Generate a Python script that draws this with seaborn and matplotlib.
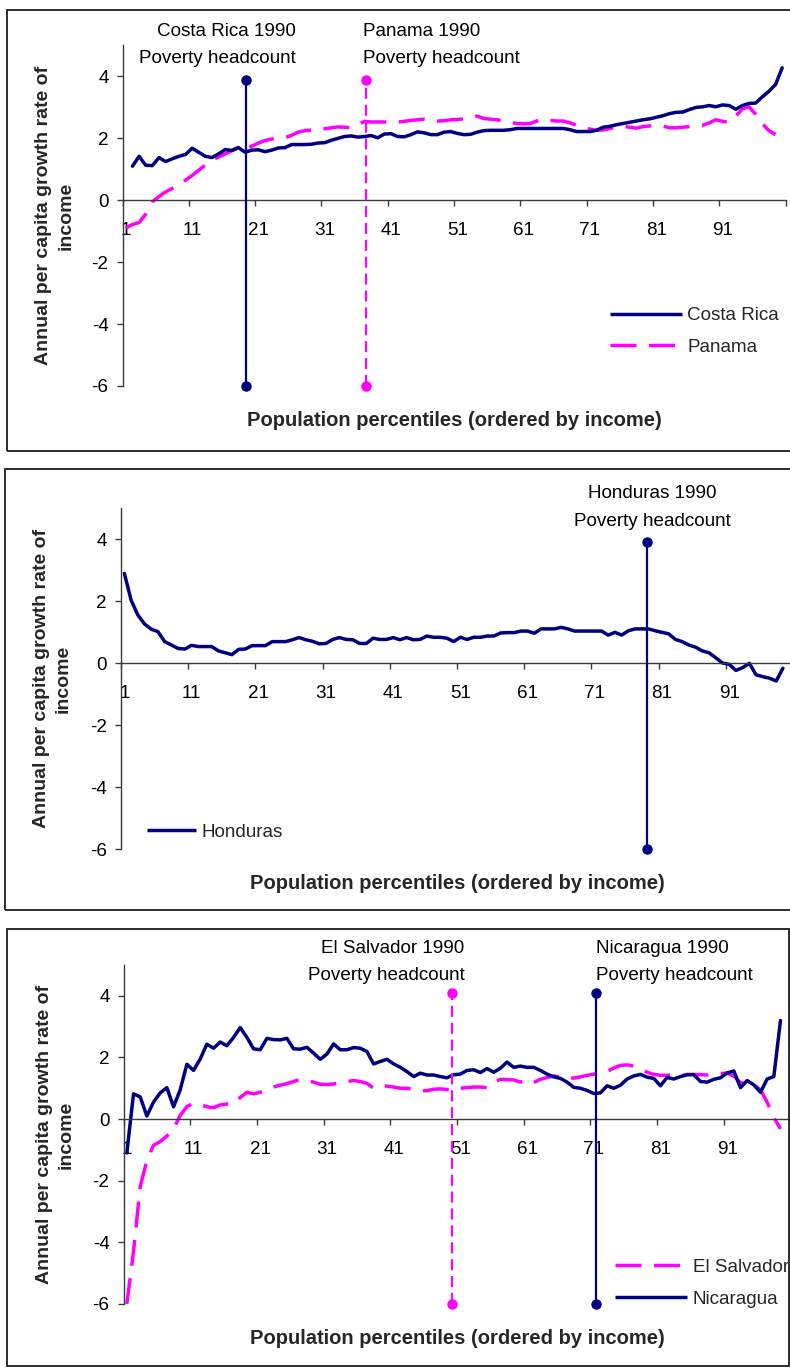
import numpy as np
import matplotlib
matplotlib.use("Agg")
import matplotlib.pyplot as plt
import seaborn as sns
from matplotlib.patches import Rectangle
from matplotlib.lines import Line2D
from matplotlib.transforms import blended_transform_factory

sns.set_theme(style="white")
plt.rcParams["font.family"] = ["Liberation Sans", "DejaVu Sans"]

NAVY = "#000080"
MAGENTA = "#FF00FF"
AXIS_GREY = "#3a3a3a"

# ---------------------------------------------------------------- data
# Annual per capita growth rate of income by population percentile
cr_pct = list(range(2, 101))
costa_rica = [
    1.10, 1.42, 1.13, 1.12, 1.38, 1.25, 1.34, 1.42, 1.48, 1.68,
    1.55, 1.42, 1.38, 1.50, 1.64, 1.61, 1.70, 1.55, 1.62, 1.63,
    1.57, 1.62, 1.69, 1.70, 1.80, 1.80, 1.80, 1.81, 1.85, 1.86,
    1.94, 2.00, 2.06, 2.08, 2.04, 2.06, 2.09, 2.02, 2.14, 2.15,
    2.06, 2.05, 2.12, 2.21, 2.18, 2.12, 2.12, 2.20, 2.22, 2.16,
    2.12, 2.13, 2.20, 2.25, 2.26, 2.26, 2.26, 2.28, 2.32, 2.32,
    2.32, 2.32, 2.32, 2.32, 2.32, 2.32, 2.28, 2.22, 2.22, 2.22,
    2.26, 2.36, 2.39, 2.44, 2.48, 2.52, 2.56, 2.60, 2.63, 2.68,
    2.73, 2.80, 2.84, 2.85, 2.93, 3.00, 3.02, 3.06, 3.02, 3.08,
    3.06, 2.94, 3.06, 3.13, 3.14, 3.34, 3.52, 3.74, 4.28,
]

pa_pct = list(range(1, 100))
panama = [
    -0.90, -0.78, -0.72, -0.45, -0.05, 0.12, 0.27, 0.38, 0.50, 0.65,
    0.80, 0.97, 1.14, 1.30, 1.40, 1.50, 1.60, 1.72, 1.62, 1.75,
    1.85, 1.93, 1.98, 2.00, 2.02, 2.10, 2.20, 2.25, 2.27, 2.28,
    2.31, 2.34, 2.37, 2.36, 2.34, 2.44, 2.55, 2.53, 2.53, 2.53,
    2.53, 2.53, 2.55, 2.58, 2.60, 2.62, 2.60, 2.56, 2.57, 2.60,
    2.61, 2.63, 2.66, 2.72, 2.64, 2.62, 2.60, 2.56, 2.52, 2.48,
    2.47, 2.48, 2.56, 2.63, 2.58, 2.56, 2.56, 2.50, 2.42, 2.34,
    2.30, 2.26, 2.27, 2.32, 2.37, 2.39, 2.36, 2.33, 2.38, 2.40,
    2.42, 2.40, 2.34, 2.34, 2.36, 2.38, 2.40, 2.42, 2.50, 2.60,
    2.55, 2.52, 2.72, 2.95, 3.02, 2.78, 2.48, 2.25, 2.12,
]

ho_pct = list(range(1, 100))
honduras = [
    2.89, 2.03, 1.55, 1.26, 1.09, 1.01, 0.69, 0.58, 0.47, 0.45,
    0.57, 0.53, 0.53, 0.53, 0.39, 0.33, 0.27, 0.44, 0.45, 0.56,
    0.56, 0.56, 0.69, 0.69, 0.69, 0.75, 0.82, 0.75, 0.70, 0.62,
    0.63, 0.76, 0.82, 0.76, 0.75, 0.63, 0.63, 0.80, 0.76, 0.76,
    0.82, 0.75, 0.82, 0.75, 0.76, 0.87, 0.83, 0.83, 0.80, 0.69,
    0.83, 0.76, 0.83, 0.83, 0.87, 0.87, 0.97, 0.98, 0.98, 1.03,
    1.03, 0.96, 1.10, 1.10, 1.10, 1.15, 1.10, 1.03, 1.03, 1.03,
    1.03, 1.03, 0.90, 0.99, 0.90, 1.04, 1.10, 1.10, 1.10, 1.04,
    0.99, 0.94, 0.76, 0.69, 0.58, 0.51, 0.39, 0.33, 0.17, 0.00,
    -0.04, -0.24, -0.15, -0.01, -0.38, -0.44, -0.49, -0.58, -0.17,
]

es_pct = list(range(1, 100))
el_salvador = [
    -6.00, -4.30, -2.20, -1.35, -0.85, -0.73, -0.55, -0.32, 0.12, 0.40,
    0.52, 0.47, 0.40, 0.37, 0.46, 0.49, 0.49, 0.70, 0.87, 0.82,
    0.87, 0.95, 1.04, 1.10, 1.15, 1.22, 1.29, 1.25, 1.20, 1.13,
    1.12, 1.14, 1.19, 1.22, 1.25, 1.22, 1.16, 1.00, 1.07, 1.07,
    1.04, 1.00, 1.00, 0.96, 0.92, 0.92, 0.97, 0.98, 0.96, 0.92,
    1.00, 1.02, 1.04, 1.04, 1.02, 1.19, 1.29, 1.28, 1.27, 1.20,
    1.28, 1.19, 1.29, 1.35, 1.40, 1.37, 1.34, 1.33, 1.37, 1.42,
    1.46, 1.46, 1.54, 1.66, 1.74, 1.76, 1.72, 1.64, 1.52, 1.45,
    1.42, 1.42, 1.43, 1.40, 1.45, 1.45, 1.44, 1.43, 1.45, 1.48,
    1.49, 1.40, 1.18, 1.16, 1.12, 0.95, 0.55, 0.05, -0.32,
]

ni_pct = list(range(1, 100))
nicaragua = [
    -1.10, 0.82, 0.72, 0.10, 0.55, 0.85, 1.02, 0.40, 0.95, 1.78,
    1.58, 1.95, 2.43, 2.30, 2.50, 2.38, 2.65, 2.97, 2.65, 2.28,
    2.25, 2.62, 2.58, 2.57, 2.62, 2.28, 2.27, 2.33, 2.14, 1.94,
    2.11, 2.44, 2.25, 2.25, 2.32, 2.30, 2.19, 1.79, 1.87, 1.94,
    1.79, 1.68, 1.54, 1.38, 1.49, 1.43, 1.43, 1.38, 1.34, 1.44,
    1.46, 1.58, 1.60, 1.51, 1.64, 1.52, 1.65, 1.85, 1.68, 1.72,
    1.68, 1.68, 1.58, 1.46, 1.37, 1.32, 1.20, 1.03, 1.00, 0.93,
    0.83, 0.85, 1.08, 1.00, 1.10, 1.30, 1.40, 1.45, 1.36, 1.32,
    1.08, 1.35, 1.30, 1.38, 1.44, 1.44, 1.22, 1.20, 1.29, 1.34,
    1.50, 1.56, 1.02, 1.25, 1.11, 0.87, 1.30, 1.38, 3.20,
]

# 1990 poverty headcount (percentile) and the span of its marker line
headcount_cr, headcount_pa = 19.1, 37.3
headcount_ho = 78.8
headcount_es, headcount_ni = 49.7, 71.4
marker_span_top = [3.9, 3.9, 4.1]
marker_span_bottom = -6.0

y_ticks = [-6, -4, -2, 0, 2, 4]
x_tick_labels = [1, 11, 21, 31, 41, 51, 61, 71, 81, 91]

ylabel_text = "Annual per capita growth rate of\nincome"
xlabel_text = "Population percentiles (ordered by income)"

# ---------------------------------------------------------------- layout
W, H = 790, 1368
fig = plt.figure(figsize=(W / 100, H / 100), dpi=100)
fig.patch.set_facecolor("white")


def px_axes(left, right, top, bottom):
    return fig.add_axes([left / W, 1 - bottom / H, (right - left) / W, (bottom - top) / H])


ax1 = px_axes(122.5, 785.5, 45.5, 386)
ax2 = px_axes(121, 793, 508, 849)
ax3 = px_axes(123.5, 790.5, 965, 1304)

# outer frames around each chart
for (x0, x1, y0, y1) in [(6.5, 800, 10, 451), (4.7, 800, 469, 910), (7.3, 788.5, 929, 1366)]:
    fig.add_artist(Rectangle((x0 / W, 1 - y1 / H), (x1 - x0) / W, (y1 - y0) / H,
                             transform=fig.transFigure, fill=False,
                             edgecolor="#1c1c1c", linewidth=1.3))

FS = 13.6
SERIES_LW = 2.5
DASH = (0, (7.5, 3.6))


def style_axes(ax):
    ax.set_xlim(0.5, 100.5)
    ax.set_ylim(-6, 5)
    ax.set_facecolor("white")
    for side in ("top", "right"):
        ax.spines[side].set_visible(False)
    ax.spines["bottom"].set_position(("data", 0))
    for side in ("left", "bottom"):
        ax.spines[side].set_color(AXIS_GREY)
        ax.spines[side].set_linewidth(1.0)
    ax.set_yticks(y_ticks)
    ax.set_yticklabels([str(v) for v in y_ticks])
    ax.set_xticks(np.arange(0.5, 101, 10))
    ax.set_xticklabels([])
    ax.set_xticks(x_tick_labels, minor=True)
    ax.set_xticklabels([str(v) for v in x_tick_labels], minor=True)
    ax.tick_params(axis="x", which="major", bottom=True, direction="out",
                   length=4, width=1.0, color=AXIS_GREY, labelbottom=False)
    ax.tick_params(axis="x", which="minor", bottom=True, length=0, pad=16,
                   labelsize=FS, labelcolor="black")
    ax.tick_params(axis="y", which="major", left=True, direction="out",
                   length=4, width=1.0, color=AXIS_GREY, pad=6,
                   labelsize=FS, labelcolor="black")
    ax.grid(False)
    ax.set_ylabel(ylabel_text, fontsize=14, fontweight="bold", va="center",
                  linespacing=1.4)
    ax.yaxis.set_label_coords(-0.102, 0.5)
    ax.set_xlabel(xlabel_text, fontsize=14.5, fontweight="bold", va="center")
    ax.xaxis.set_label_coords(0.5, -0.102)


def draw_series(ax, x, y, color, dashed=False):
    kw = dict(color=color, linewidth=SERIES_LW, solid_capstyle="round",
              solid_joinstyle="round", dash_capstyle="butt")
    if dashed:
        kw["linestyle"] = DASH
    sns.lineplot(x=x, y=y, ax=ax, legend=False, **kw)


def draw_headcount(ax, x, top, color, dashed=False):
    ls = (0, (5, 2.6)) if dashed else "-"
    ax.plot([x, x], [marker_span_bottom, top], color=color, linewidth=1.6,
            linestyle=ls, marker="o", markersize=6.5, markerfacecolor=color,
            markeredgecolor=color, zorder=4, clip_on=False)


def label_pair(ax, x, lines, ha, baselines):
    tr = blended_transform_factory(ax.transData, fig.transFigure)
    for txt, yb in zip(lines, baselines):
        ax.text(x, 1 - yb / H, txt, transform=tr, ha=ha, va="baseline",
                fontsize=FS, color="black", clip_on=False)


def legend(ax, entries, anchor, handlelength):
    handles = []
    for name, color, dashed in entries:
        handles.append(Line2D([], [], color=color, linewidth=SERIES_LW,
                              linestyle=DASH if dashed else "-",
                              dash_capstyle="butt", solid_capstyle="butt"))
    ax.legend(handles, [e[0] for e in entries], loc="center left",
              bbox_to_anchor=anchor, frameon=False, fontsize=FS,
              handlelength=handlelength, handletextpad=0.3, borderpad=0,
              borderaxespad=0, labelspacing=0.78)


# ---------------------------------------------------------------- panel 1
style_axes(ax1)
draw_series(ax1, pa_pct, panama, MAGENTA, dashed=True)
draw_series(ax1, cr_pct, costa_rica, NAVY)
draw_headcount(ax1, headcount_cr, marker_span_top[0], NAVY)
draw_headcount(ax1, headcount_pa, marker_span_top[0], MAGENTA, dashed=True)
label_pair(ax1, headcount_cr + 7.6, ["Costa Rica 1990", "Poverty headcount"], "right", [36, 63])
label_pair(ax1, headcount_pa - 0.5, ["Panama 1990", "Poverty headcount"], "left", [36, 63])
legend(ax1, [("Costa Rica", NAVY, False), ("Panama", MAGENTA, True)], (0.735, 0.16), 3.8)

# ---------------------------------------------------------------- panel 2
style_axes(ax2)
draw_series(ax2, ho_pct, honduras, NAVY)
draw_headcount(ax2, headcount_ho, marker_span_top[1], NAVY)
label_pair(ax2, headcount_ho + 0.7, ["Honduras 1990", "Poverty headcount"], "center", [498.5, 525.5])
legend(ax2, [("Honduras", NAVY, False)], (0.039, 0.05), 2.6)

# ---------------------------------------------------------------- panel 3
style_axes(ax3)
draw_series(ax3, es_pct, el_salvador, MAGENTA, dashed=True)
draw_series(ax3, ni_pct, nicaragua, NAVY)
draw_headcount(ax3, headcount_es, marker_span_top[2], MAGENTA, dashed=True)
draw_headcount(ax3, headcount_ni, marker_span_top[2], NAVY)
label_pair(ax3, headcount_es + 1.9, ["El Salvador 1990", "Poverty headcount"], "right", [953, 980])
label_pair(ax3, headcount_ni - 0.06, ["Nicaragua 1990", "Poverty headcount"], "left", [953, 980])
legend(ax3, [("El Salvador", MAGENTA, True), ("Nicaragua", NAVY, False)], (0.737, 0.062), 3.8)

fig.savefig("out.png", dpi=100, facecolor="white")
